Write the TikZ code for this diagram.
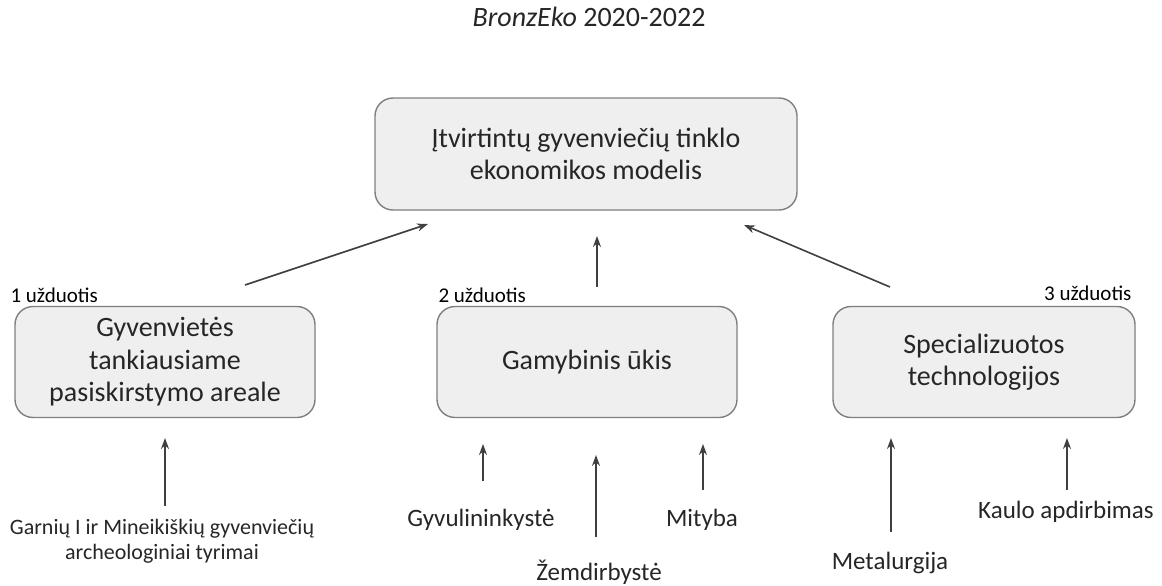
\documentclass[tikz,border=0pt]{standalone}
\usepackage{fontspec}
\setmainfont{Carlito}
\usetikzlibrary{arrows.meta}
\definecolor{boxfill}{HTML}{EFEFEF}
\definecolor{boxline}{HTML}{7F7F7F}
\definecolor{arrowgray}{HTML}{404040}
\definecolor{textgray}{HTML}{262626}
\begin{document}
\begin{tikzpicture}[x=1pt,y=-1pt,
    uzdavinys/.style ={rectangle, rounded corners=18pt, draw=boxline, fill=boxfill,
        line width=1.4pt, minimum width=300pt, minimum height=111pt, align=center,
        text=textgray, font=\fontsize{28}{32.5}\selectfont},
    saltinis/.style ={align=center, text=textgray, font=\fontsize{25}{28}\selectfont},
    zyme/.style ={text=black, font=\fontsize{21}{24}\selectfont},
    rodykle/.style ={-{Stealth[length=11pt,width=8pt]}, draw=arrowgray, line width=1.6pt}]
   \useasboundingbox (0,0) rectangle (1162,586);
   % pavadinimas
   \node[text=textgray, font=\fontsize{28}{32}\selectfont] (T) at (589,17) {\textit{BronzEko} 2020-2022};
   % modelis
   \node[uzdavinys, minimum width=422pt, minimum height=112pt] (M) at (586,154)
      {Įtvirtintų gyvenviečių tinklo\\ekonomikos modelis};
   % uzduotys
   \node[uzdavinys] (A) at (165,362) {Gyvenvietės\\tankiausiame\\pasiskirstymo areale};
   \node[uzdavinys] (B) at (587,362) {Gamybinis ūkis};
   \node[uzdavinys, minimum width=302pt] (C) at (984,362) {Specializuotos\\technologijos};
   \node[zyme, anchor=south west] (A1) at (7,306) {1 užduotis};
   \node[zyme, anchor=south west] (B1) at (435,306) {2 užduotis};
   \node[zyme, anchor=south east] (C1) at (1135,304) {3 užduotis};
   % saltiniai
   \node[saltinis, font=\fontsize{22}{24.5}\selectfont] (A2) at (162,541)
      {Garnių I ir Mineikiškių gyvenviečių\\archeologiniai tyrimai};
   \node[saltinis] (B2) at (481,520) {Gyvulininkystė};
   \node[saltinis] (B3) at (599,572) {Žemdirbystė};
   \node[saltinis] (B4) at (702,520) {Mityba};
   \node[saltinis] (C2) at (890,563) {Metalurgija};
   \node[saltinis] (C3) at (1066,512) {Kaulo apdirbimas};
   % rodykliu galai
   \coordinate (a0) at (245,285); \coordinate (a1) at (428,224);
   \coordinate (b0) at (597,287); \coordinate (b1) at (597,236);
   \coordinate (c0) at (890,287); \coordinate (c1) at (744,225);
   \coordinate (d0) at (165,506); \coordinate (d1) at (165,438);
   \coordinate (e0) at (483,481); \coordinate (e1) at (483,444);
   \coordinate (f0) at (596,537); \coordinate (f1) at (596,455);
   \coordinate (g0) at (703,490); \coordinate (g1) at (703,444);
   \coordinate (h0) at (891,532); \coordinate (h1) at (891,438);
   \coordinate (k0) at (1067,490); \coordinate (k1) at (1067,438);
   \draw[rodykle] (a0) to (a1);
   \draw[rodykle] (b0) to (b1);
   \draw[rodykle] (c0) to (c1);
   \draw[rodykle] (d0) to (d1);
   \draw[rodykle] (e0) to (e1);
   \draw[rodykle] (f0) to (f1);
   \draw[rodykle] (g0) to (g1);
   \draw[rodykle] (h0) to (h1);
   \draw[rodykle] (k0) to (k1);
\end{tikzpicture}
\end{document}
